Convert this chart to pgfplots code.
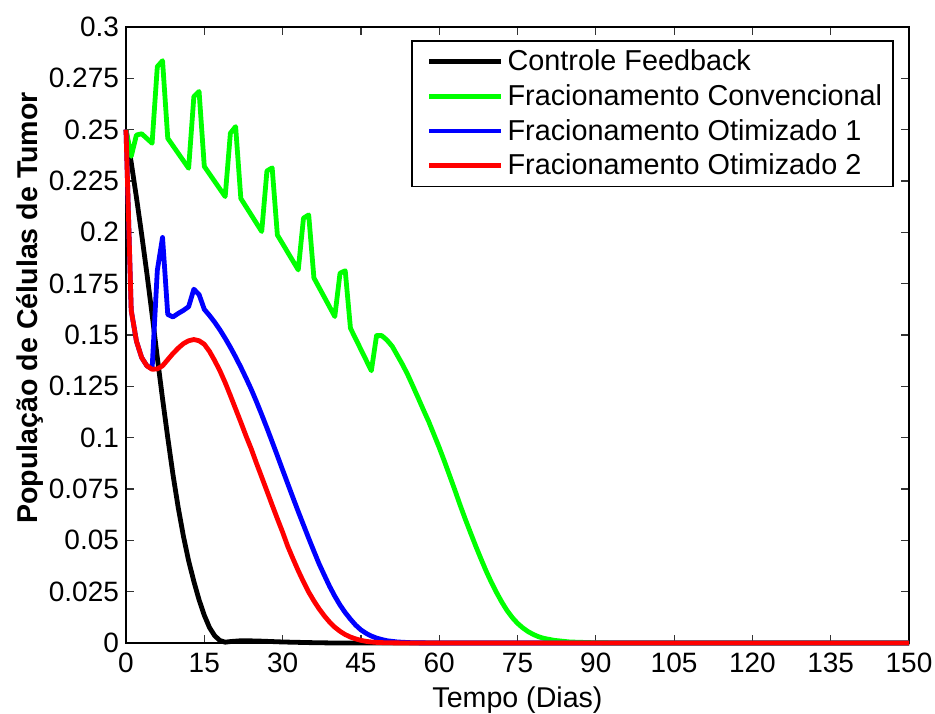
\documentclass[border=0pt]{standalone}
\usepackage{pgfplots}
\pgfplotsset{compat=1.18}
\usepackage{fontspec}
\setmainfont{Liberation Sans}
\begin{document}
\begin{tikzpicture}
\begin{axis}[
  scale only axis,
  width=391.5pt, height=308pt,
  xmin=0, xmax=150, ymin=0, ymax=0.3,
  clip=false,
  axis line style={line width=0.8pt},
  tick align=inside,
  major tick length=4pt,
  xtick pos=both, ytick pos=both,
  xticklabel pos=bottom, yticklabel pos=left,
  tick style={line width=0.6pt, black!80},
  xtick={0,15,30,45,60,75,90,105,120,135,150},
  xticklabels={0,15,30,45,60,75,90,105,120,135,150},
  ytick={0,0.025,0.05,0.075,0.1,0.125,0.15,0.175,0.2,0.225,0.25,0.275,0.3},
  yticklabels={0,0.025,0.05,0.075,0.1,0.125,0.15,0.175,0.2,0.225,0.25,0.275,0.3},
  tick label style={font=\fontsize{14}{16.8}\selectfont},
  xticklabel style={yshift=-1.5pt},
  xlabel={Tempo (Dias)},
  ylabel={\textbf{População de Células de Tumor}},
  label style={font=\fontsize{14.3}{17}\selectfont},
  xlabel style={at={(rel axis cs:0.5,0)}, anchor=center, yshift=-28.5pt},
  ylabel style={at={(rel axis cs:-0.1226,0.544)}, anchor=center},
  legend style={at={(rel axis cs:1,1)}, anchor=north east, xshift=-7.5pt, yshift=-6.5pt,
    font=\fontsize{14.4}{17}\selectfont, draw=black, line width=0.8pt,
    inner xsep=3.5pt, inner ysep=2.5pt, row sep=1.4pt},
  legend cell align=left,
  legend image code/.code={\path (0pt,0pt); \draw[#1] (4pt,0pt) -- (40pt,0pt);},
  every axis plot/.append style={line width=2.4pt, line join=round},
]
\coordinate (SW) at (rel axis cs:0,0);
\coordinate (NE) at (rel axis cs:1,1);
% Controle Feedback
\addplot[black] coordinates {
(0,0.25)(1,0.234)(2,0.217)(3,0.199)(4,0.180)(5,0.160)(6,0.139)(7,0.119)(8,0.100)
(9,0.082)(10,0.066)(11,0.052)(12,0.040)(13,0.030)(14,0.021)(15,0.0135)(16,0.0075)
(17,0.0035)(18,0.0012)(19,0.0004)(20,0.0007)(22,0.0011)(25,0.0010)(30,0.0005)
(35,0.0002)(40,0)(150,0)};
% Fracionamento Convencional
\addplot[color={rgb,1:red,0;green,1;blue,0}] coordinates {
(0,0.25)(1,0.237)(2,0.2474)(3,0.248)(5,0.2434)(6,0.2807)(7,0.2836)(8,0.2458)
(12,0.2312)(13,0.2661)(14,0.2686)(15,0.2321)(19,0.2174)(20,0.2483)(21,0.2515)
(22,0.2165)(26,0.2004)(27,0.2299)(28,0.2314)(29,0.1987)(33,0.1817)(34,0.2069)
(35,0.2085)(36,0.1778)(40,0.1590)(41,0.1801)(42,0.1813)(43,0.1533)(47,0.1326)
(48,0.1497)(49,0.1497)(50,0.1475)(51,0.1445)(52,0.1400)(53,0.1355)(54,0.1305)
(55,0.1249)(56,0.1192)(57,0.1134)(58,0.1078)(59,0.1015)(60,0.0952)(61,0.0885)
(62,0.0815)(63,0.0745)(64,0.0672)(65,0.0603)(66,0.0537)(67,0.0472)(68,0.0410)
(69,0.0350)(70,0.0295)(71,0.0245)(72,0.0199)(73,0.0158)(74,0.0124)(75,0.0096)
(76,0.0074)(77,0.0056)(78,0.0042)(79,0.0031)(80,0.0023)(82,0.0013)(85,0.0005)
(90,0.0001)(95,0)(150,0)};
% Fracionamento Otimizado 1
\addplot[blue] coordinates {
(0,0.25)(1,0.162)(2,0.147)(3,0.139)(4,0.135)(5,0.1335)(6,0.1815)(7,0.1975)
(8,0.1600)(9,0.1588)(10,0.1605)(11,0.1620)(12,0.1638)(13,0.1723)(14,0.1697)
(15,0.1625)(16,0.1595)(17,0.1562)(18,0.1525)(19,0.1484)(20,0.1440)(21,0.1393)
(22,0.1343)(23,0.1290)(24,0.1235)(25,0.1175)(26,0.1112)(27,0.1047)(28,0.0980)
(29,0.0912)(30,0.0843)(31,0.0775)(32,0.0707)(33,0.0640)(34,0.0575)(35,0.0510)
(36,0.0447)(37,0.0385)(38,0.0330)(39,0.0276)(40,0.0228)(41,0.0185)(42,0.0148)
(43,0.0116)(44,0.0087)(45,0.0064)(46,0.0047)(47,0.0034)(48,0.0024)(49,0.0017)
(50,0.0011)(52,0.0005)(55,0.0001)(60,0)(150,0)};
% Fracionamento Otimizado 2
\addplot[red] coordinates {
(0,0.25)(1,0.162)(2,0.147)(3,0.139)(4,0.135)(5,0.1333)(6,0.1335)(7,0.1350)
(8,0.1380)(9,0.1410)(10,0.1436)(11,0.1458)(12,0.1472)(13,0.1478)(14,0.1472)
(15,0.1455)(16,0.1420)(17,0.1375)(18,0.1325)(19,0.1268)(20,0.1205)(21,0.1140)
(22,0.1075)(23,0.1008)(24,0.0945)(25,0.0875)(26,0.0808)(27,0.0740)(28,0.0672)
(29,0.0605)(30,0.0540)(31,0.0470)(32,0.0410)(33,0.0352)(34,0.0298)(35,0.0248)
(36,0.0205)(37,0.0166)(38,0.0132)(39,0.0102)(40,0.0077)(41,0.0057)(42,0.0041)
(43,0.0029)(44,0.0020)(45,0.0013)(46,0.0008)(47,0.0005)(48,0.0003)(50,0.0001)
(55,0)(150,0)};
\legend{Controle Feedback, Fracionamento Convencional, Fracionamento Otimizado 1, Fracionamento Otimizado 2}
\end{axis}
\pgfresetboundingbox
\path ([shift={(-63pt,-35pt)}]SW) rectangle ([shift={(13pt,13.5pt)}]NE);
\end{tikzpicture}
\end{document}
